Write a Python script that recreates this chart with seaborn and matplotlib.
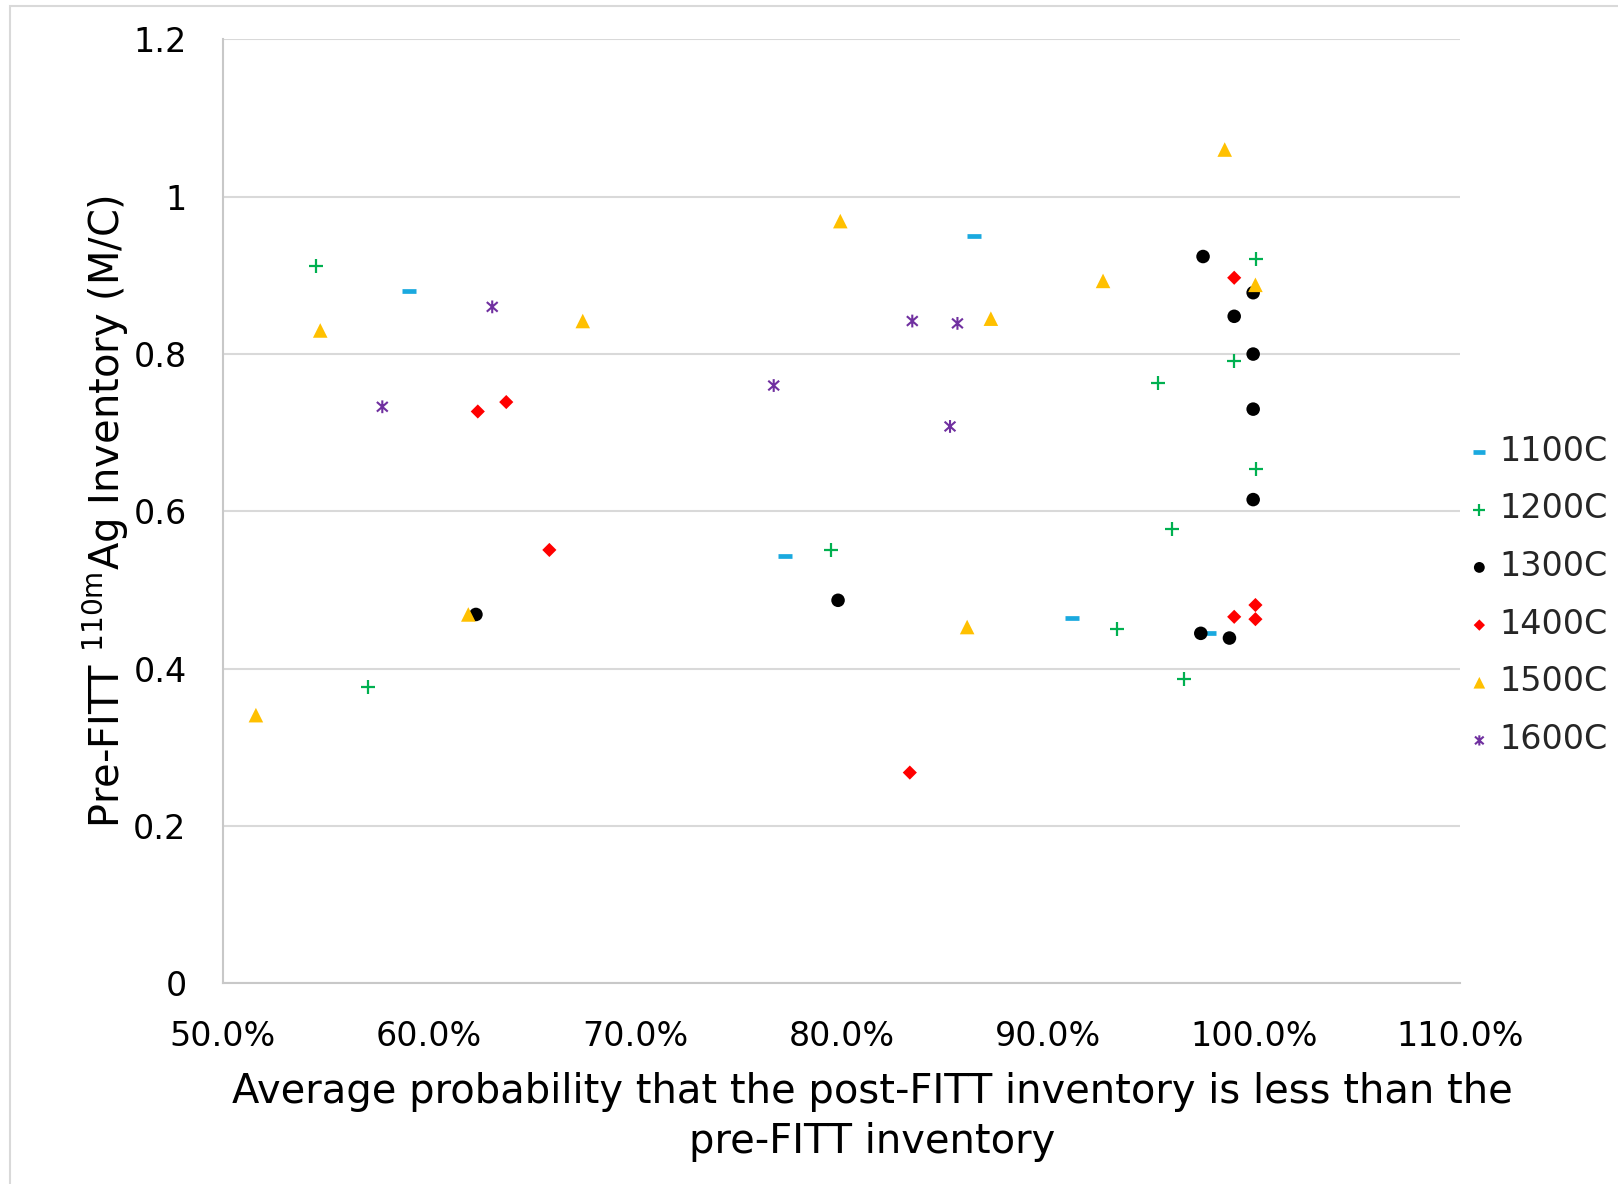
import numpy as np
import pandas as pd
import matplotlib
matplotlib.use("Agg")
import matplotlib.pyplot as plt
from matplotlib.path import Path
from matplotlib.patches import Rectangle
from matplotlib.ticker import FuncFormatter, FixedLocator
import seaborn as sns

# ---------------- data (x = average probability, y = inventory M/C) ----------------
x_1100 = [0.5902, 0.8644, 0.7728, 0.9117, 0.9783]
y_1100 = [0.880, 0.950, 0.543, 0.464, 0.446]

x_1200 = [0.5451, 0.5705, 0.7950, 1.0010, 0.9905, 0.9534, 1.0010, 0.9605, 0.9337, 0.9662]
y_1200 = [0.912, 0.377, 0.551, 0.921, 0.791, 0.763, 0.654, 0.578, 0.450, 0.387]

x_1300 = [0.6228, 0.7984, 0.9754, 0.9997, 0.9905, 0.9997, 0.9997, 0.9997, 0.9743, 0.9882]
y_1300 = [0.469, 0.487, 0.924, 0.878, 0.848, 0.800, 0.730, 0.615, 0.445, 0.439]

x_1400 = [0.6237, 0.6375, 0.6584, 0.8332, 0.9905, 1.0008, 0.9905, 1.0008]
y_1400 = [0.727, 0.739, 0.551, 0.268, 0.897, 0.481, 0.466, 0.463]

x_1500 = [0.5473, 0.6746, 0.6191, 0.5161, 0.7995, 0.8725, 0.8610, 0.9859, 1.0008, 0.9269]
y_1500 = [0.830, 0.842, 0.469, 0.341, 0.969, 0.845, 0.453, 1.060, 0.888, 0.893]

x_1600 = [0.6307, 0.5774, 0.8344, 0.8563, 0.7672, 0.8527]
y_1600 = [0.860, 0.733, 0.842, 0.839, 0.760, 0.708]

series_names = ["1100C", "1200C", "1300C", "1400C", "1500C", "1600C"]
series_x = [x_1100, x_1200, x_1300, x_1400, x_1500, x_1600]
series_y = [y_1100, y_1200, y_1300, y_1400, y_1500, y_1600]

x_ticks = [0.5, 0.6, 0.7, 0.8, 0.9, 1.0, 1.1]
y_ticks = [0, 0.2, 0.4, 0.6, 0.8, 1.0, 1.2]
y_tick_labels = ["0", "0.2", "0.4", "0.6", "0.8", "1", "1.2"]

x_label = "Average probability that the post-FITT inventory is less than the\npre-FITT inventory"
y_label = "Pre-FITT $^{\\mathregular{110m}}$Ag Inventory (M/C)"

# ---------------- styles ----------------
asterisk = Path(
    [(0, -1), (0, 1), (-0.85, -0.75), (0.85, 0.75), (-0.85, 0.75), (0.85, -0.75)],
    [Path.MOVETO, Path.LINETO, Path.MOVETO, Path.LINETO, Path.MOVETO, Path.LINETO],
)
# kind: "line" = unfilled line-art marker, "path" = custom stroke path, "fill" = filled
styles = {
    "1100C": dict(marker="_", color="#1AA9DF", s=110, linewidth=3.4, kind="line"),
    "1200C": dict(marker="+", color="#00B050", s=110, linewidth=1.6, kind="line"),
    "1300C": dict(marker="o", color="#000000", s=95, linewidth=0, kind="fill"),
    "1400C": dict(marker="D", color="#FF0000", s=52, linewidth=0, kind="fill"),
    "1500C": dict(marker="^", color="#FFC000", s=110, linewidth=0, kind="fill"),
    "1600C": dict(marker=asterisk, color="#7030A0", s=85, linewidth=1.5, kind="path"),
}

sns.set_theme(style="white")
plt.rcParams["font.family"] = ["DejaVu Sans"]
plt.rcParams["mathtext.fontset"] = "dejavusans"

W, H = 1618, 1184
fig = plt.figure(figsize=(W / 100, H / 100), dpi=100)
fig.patch.set_facecolor("white")

# outer chart border
fig.patches.append(Rectangle((10 / W, -0.05), 1.2, 1 - 6 / H + 0.05,
                             transform=fig.transFigure, fill=False,
                             edgecolor="#D9D9D9", linewidth=1.5))

left, right, top, bottom = 222.7, 1460, 39.4, 983.4
ax = fig.add_axes([left / W, 1 - bottom / H, (right - left) / W, (bottom - top) / H])

for name, xs, ys in zip(series_names, series_x, series_y):
    st = styles[name]
    df = pd.DataFrame({"x": xs, "y": ys})
    kw = dict(marker=st["marker"], s=st["s"], linewidth=st["linewidth"],
              label=name, zorder=3)
    if st["kind"] == "line":
        kw.update(color=st["color"])
    elif st["kind"] == "path":
        kw.update(color=st["color"], edgecolor=st["color"], facecolor="none")
    else:
        kw.update(color=st["color"], edgecolor="none")
    sns.scatterplot(data=df, x="x", y="y", ax=ax, **kw)

ax.set_xlim(0.5, 1.1)
ax.set_ylim(0, 1.2)
ax.xaxis.set_major_locator(FixedLocator(x_ticks))
ax.xaxis.set_major_formatter(FuncFormatter(lambda v, p: f"{v * 100:.1f}%"))
ax.yaxis.set_major_locator(FixedLocator(y_ticks))
ax.set_yticklabels(y_tick_labels)

ax.grid(axis="y", color="#D9D9D9", linewidth=1.5)
ax.grid(axis="x", visible=False)
for sp in ["top", "right"]:
    ax.spines[sp].set_visible(False)
for sp in ["left", "bottom"]:
    ax.spines[sp].set_color("#C8C8C8")
    ax.spines[sp].set_linewidth(1.5)

ax.tick_params(axis="both", length=0, labelsize=24, colors="black")
ax.tick_params(axis="y", pad=26)
ax.tick_params(axis="x", pad=26)

ax.set_xlabel(x_label, fontsize=28.8, color="black", va="center", linespacing=1.3)
ax.xaxis.set_label_coords((872 - left) / (right - left), (bottom - 1117) / (bottom - top))
ax.set_ylabel(y_label, fontsize=28.8, color="black", va="center")
ax.yaxis.set_label_coords((106 - left) / (right - left), (bottom - 511) / (bottom - top))

leg = ax.legend(loc="center left", bbox_to_anchor=(1466 / W, 1 - 595.5 / H),
                bbox_transform=fig.transFigure, frameon=False, fontsize=24,
                handlelength=0.8, handletextpad=0.2, labelspacing=0.74,
                borderpad=0, borderaxespad=0, markerscale=0.8)

fig.savefig("out.png", dpi=100, facecolor="white")
